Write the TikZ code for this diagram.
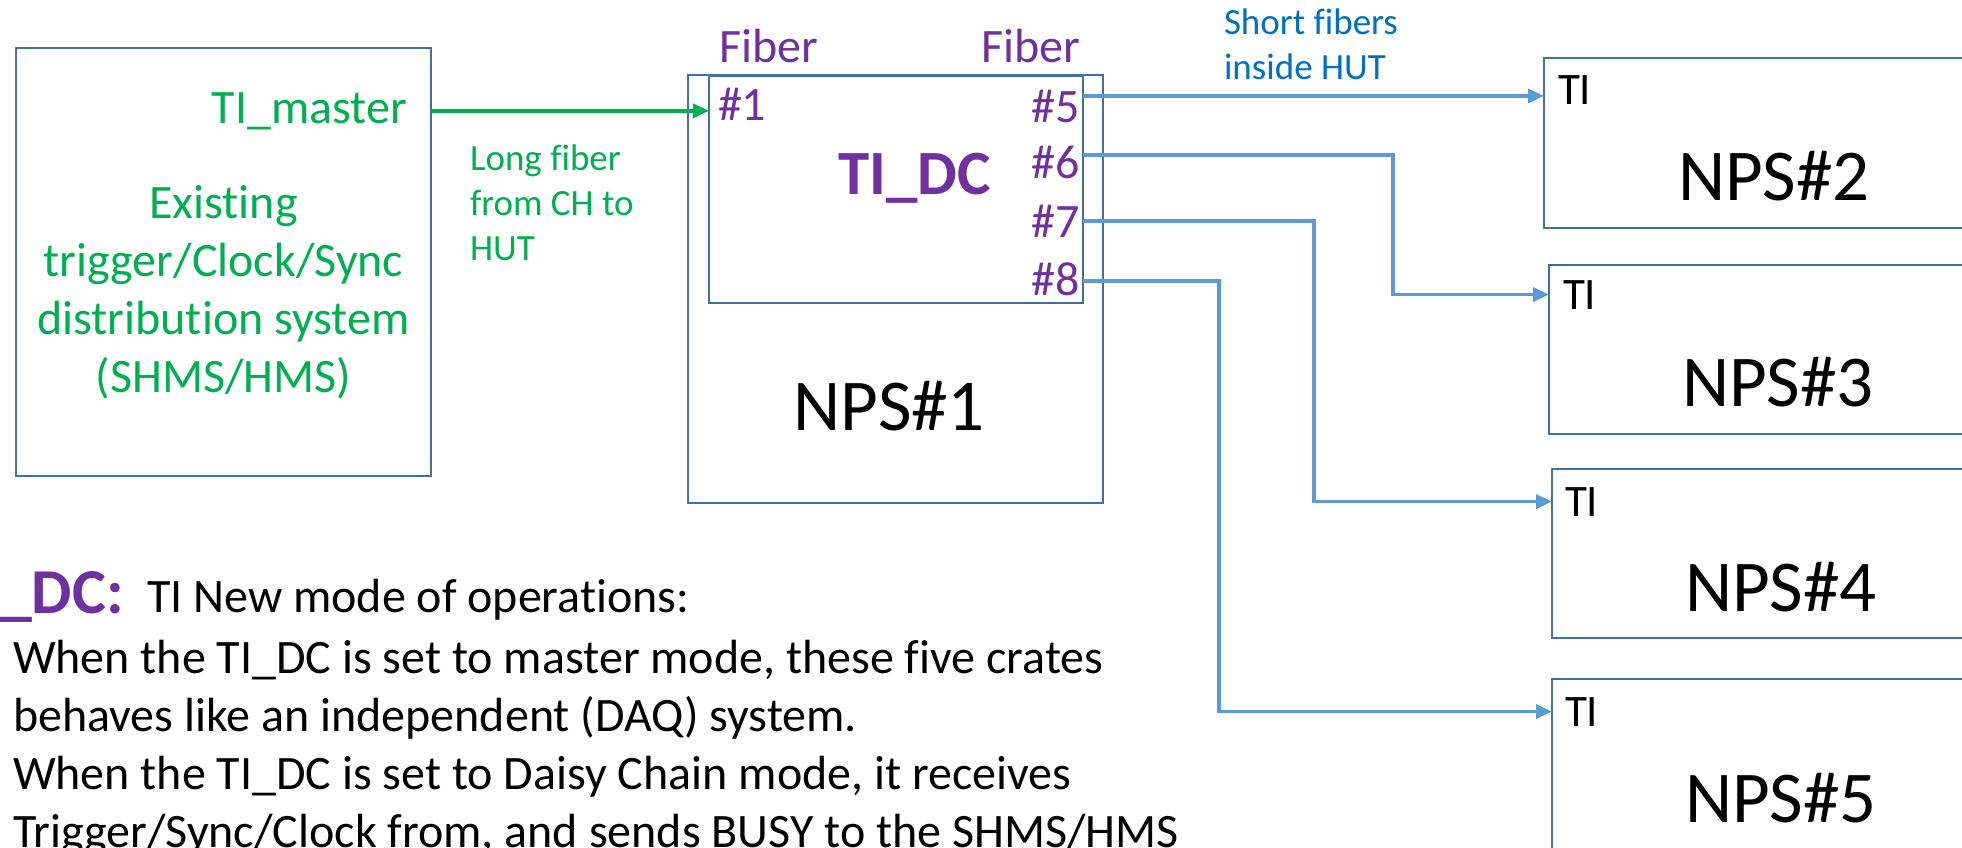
\documentclass[tikz,border=0pt]{standalone}
\usepackage{fontspec}
\setmainfont{Carlito}[Ligatures=NoCommon]
\usepackage{tikz}
\usetikzlibrary{arrows.meta,positioning,calc}
\usepackage{xcolor}
\definecolor{crateblue}{HTML}{41719C}
\definecolor{fibgreen}{HTML}{00B050}
\definecolor{tipurple}{HTML}{7030A0}
\definecolor{fibblue}{HTML}{5B9BD5}
\definecolor{noteblue}{HTML}{0070C0}

\begin{document}
\begin{tikzpicture}[x=1pt,y=-1pt,>={Triangle[length=16pt,width=14pt]}, every node/.style={inner sep=0pt,outer sep=0pt}]
\tikzstyle{box}=[draw=crateblue,line width=2pt,anchor=north west]
\tikzstyle{big}=[font=\fontsize{48}{58}\selectfont]
\tikzstyle{small}=[font=\fontsize{37}{45}\selectfont]
\tikzstyle{crate}=[font=\fontsize{73}{88}\selectfont]
\tikzstyle{tilbl}=[font=\fontsize{45}{54}\selectfont,anchor=base west]
\tikzstyle{fib}=[draw=fibblue,line width=3.5pt,->]
\useasboundingbox (0,0) rectangle (1962,847);
\clip (0,0) rectangle (1962,847);
% existing system
\node[box,minimum width=415pt,minimum height=428pt] (sys) at (16,48) {};
\node[big,text=fibgreen,anchor=base east] (master) at (407,123) {TI\_master};
\node[big,text=fibgreen,align=center,anchor=base] (systxt) at (223.5,392) {Existing\\trigger/Clock/Sync\\distribution system\\(SHMS/HMS)};
% NPS#1 with TI_DC
\node[box,minimum width=415pt,minimum height=428pt] (nps1) at (688,75) {};
\node[box,minimum width=374pt,minimum height=227pt] (tidc) at (709,76) {};
\node[crate,anchor=base] (nps1txt) at (889,430) {NPS\#1};
\node[text=tipurple,font=\fontsize{63}{76}\selectfont\bfseries,anchor=base west] (tidctxt) at (838,194) {TI\_DC};
\node[big,text=tipurple,anchor=base west] (fibin) at (719,62) {Fiber};
\node[big,text=tipurple,anchor=base east] (fibout) at (1080,62) {Fiber};
\node[big,text=tipurple,anchor=base west] (p1) at (718,120) {\#1};
\node[big,text=tipurple,anchor=base east] (p5) at (1080,122) {\#5};
\node[big,text=tipurple,anchor=base east] (p6) at (1080,178) {\#6};
\node[big,text=tipurple,anchor=base east] (p7) at (1080,237) {\#7};
\node[big,text=tipurple,anchor=base east] (p8) at (1080,295) {\#8};
% fiber notes
\node[small,text=fibgreen,align=left,anchor=base west] (longfib) at (470,260) {Long fiber\\from CH to\\HUT};
\node[small,text=noteblue,align=left,anchor=base west] (shortfib) at (1224,79) {Short fibers\\inside HUT};
% other crates
\node[box,minimum width=500pt,minimum height=170pt] (nps2) at (1544,58) {};
\node[box,minimum width=500pt,minimum height=169pt] (nps3) at (1549,265) {};
\node[box,minimum width=500pt,minimum height=169pt] (nps4) at (1552,469) {};
\node[box,minimum width=500pt,minimum height=220pt] (nps5) at (1552,679) {};
\node[tilbl] (ti2) at (1558,104) {TI};
\node[tilbl] (ti3) at (1563,309) {TI};
\node[tilbl] (ti4) at (1565,516) {TI};
\node[tilbl] (ti5) at (1565,726) {TI};
\node[crate,anchor=base west] (nps2txt) at (1678,200) {NPS\#2};
\node[crate,anchor=base west] (nps3txt) at (1682,406) {NPS\#3};
\node[crate,anchor=base west] (nps4txt) at (1685,611) {NPS\#4};
\node[crate,anchor=base west] (nps5txt) at (1685,822) {NPS\#5};
% notes on the modes
\node[text=tipurple,font=\fontsize{64}{76}\selectfont\bfseries,anchor=base west] (dclbl) at (0,613) {\_DC:};
\node[big,anchor=base west] (modehead) at (147,612) {TI New mode of operations:};
\node[big,align=left,anchor=base west] (modes) at (13,847) {When the TI\_DC is set to master mode, these five crates\\behaves like an independent (DAQ) system.\\When the TI\_DC is set to Daisy Chain mode, it receives\\Trigger/Sync/Clock from, and sends BUSY to the SHMS/HMS};
% fibers
\draw[draw=fibgreen,line width=3.5pt,->] (sys.east |- master) -- (tidc.west |- master);
\draw[fib] ([yshift=10pt]p5.east -| tidc.east) -- ([yshift=10pt]p5.east -| nps2.west);
\draw[fib] ([yshift=7pt]p6.east -| tidc.east) -- ++(310,0) |- (nps3.west |- ti3);
\draw[fib] (p7.east -| tidc.east) -- ++(231,0) |- (nps4.west |- ti4);
\draw[fib] ([yshift=-2pt]p8.east -| tidc.east) -- ++(136,0) |- (nps5.west |- ti5);
\end{tikzpicture}
\end{document}
